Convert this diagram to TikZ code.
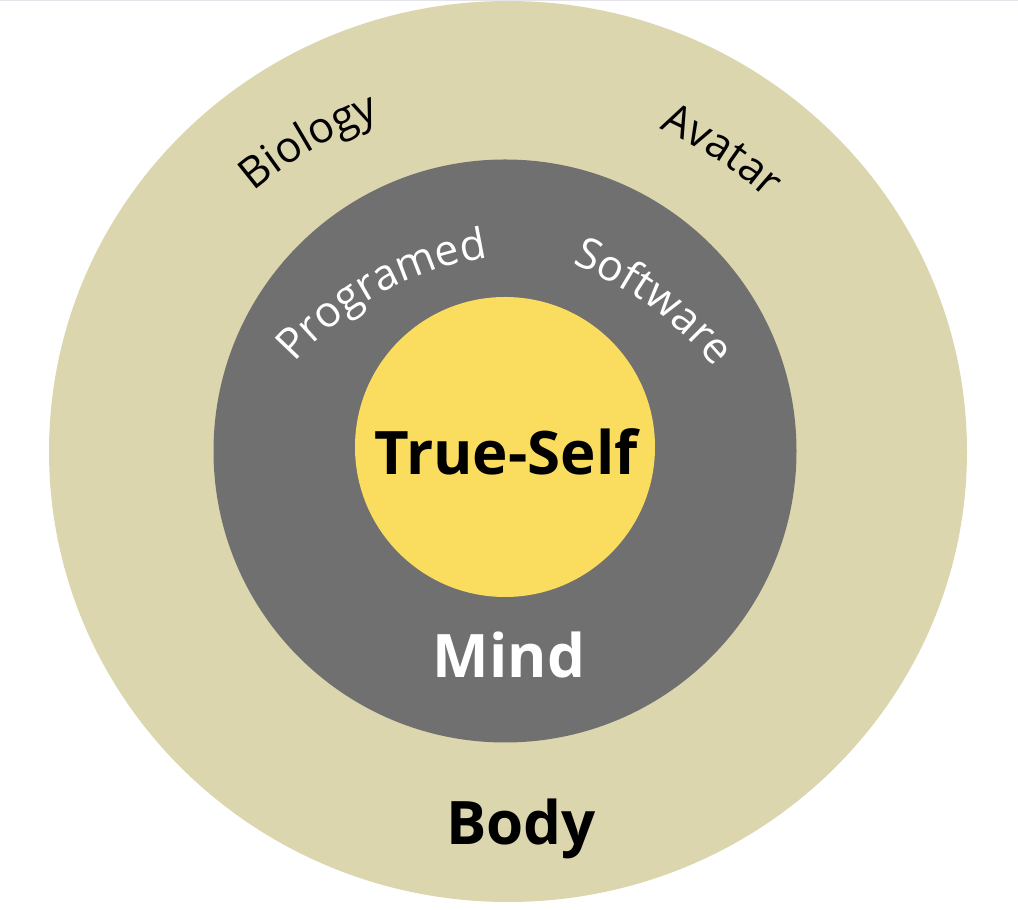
\documentclass[tikz,border=0pt]{standalone}
\usepackage{fontspec}
\setmainfont{Open Sans}
\usetikzlibrary{decorations.text}
\definecolor{bodycol}{HTML}{DBD6AE}
\definecolor{mindcol}{HTML}{707070}
\definecolor{selfcol}{HTML}{FADD5E}
\definecolor{topline}{HTML}{E4E4EA}
\newcommand{\arclabelfont}{\fontsize{43}{50}\selectfont}
\tikzset{
  biglabel/.style={font=\fontsize{60}{70}\selectfont\bfseries, inner sep=0pt, anchor=base},
  arclabel/.style={decorate, decoration={text along path, text align=center}}
}
\begin{document}
\begin{tikzpicture}[x=1pt,y=1pt]
\useasboundingbox (0,0) rectangle (1018,910);
\draw[topline, line width=1.2pt] (0,909.4) -- (1018,909.4);
% circles
\fill[bodycol] (508,458.5) ellipse [x radius=459, y radius=450.5];
\fill[mindcol] (505,459) circle [radius=291.5];
\fill[selfcol] (505,463) circle [radius=150];
% curved labels
\path[arclabel, decoration={text={|\arclabelfont|Biology}}]
  (513.5,414.3) ++(160:400) arc[start angle=160, end angle=80, radius=400];
\path[arclabel, decoration={text={|\arclabelfont|Avatar}}]
  (498,415.4) ++(97:400) arc[start angle=97, end angle=17, radius=400];
\path[arclabel, decoration={text color=white, text={|\arclabelfont|Programed}}]
  (534.6,335.7) ++(168.5:320) arc[start angle=168.5, end angle=68.5, radius=320];
\path[arclabel, decoration={text color=white, text={|\arclabelfont|Software}}]
  (438.3,311.8) ++(104:360) arc[start angle=104, end angle=4, radius=360];
% main labels
\node[biglabel, text=black] (self) at (506,435) {True-Self};
\node[biglabel, text=white] (mind) at (509,232) {Mind};
\node[biglabel, text=black] (body) at (521,65) {Body};
\end{tikzpicture}
\end{document}
